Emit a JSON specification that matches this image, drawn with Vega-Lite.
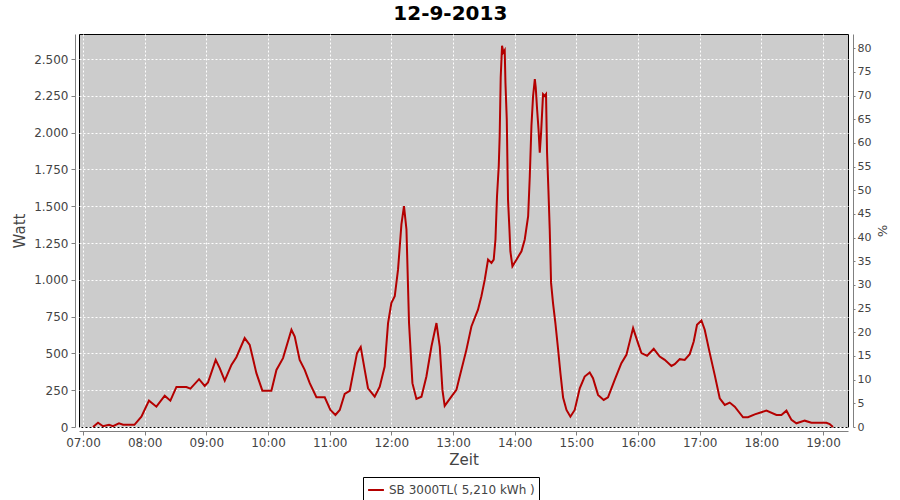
{
  "$schema": "https://vega.github.io/schema/vega-lite/v6.json",
  "autosize": {"type": "none"},
  "width": 769,
  "height": 393,
  "padding": {"left": 79, "top": 34, "right": 52, "bottom": 73},
  "title": {"text": "12-9-2013", "fontSize": 20, "font": "DejaVu Sans", "fontWeight": "bold", "color": "#000000", "anchor": "middle", "frame": "bounds", "offset": 7},
  "config": {
    "locale": {"number": {"decimal": ",", "thousands": ".", "grouping": [3], "currency": ["", " €"]}},
    "view": {"stroke": "#000000", "strokeWidth": 1, "fill": "#cccccc"},
    "axis": {"domainColor": "#808080", "tickColor": "#808080", "labelColor": "#444444", "titleColor": "#444444", "labelFont": "DejaVu Sans", "titleFont": "DejaVu Sans", "gridColor": "#ffffff", "gridDash": [2, 2], "gridOpacity": 1}
  },
  "layer": [
    {
      "data": {"values": [
        {"t": "2013-09-12T07:09:42", "w": 0},
        {"t": "2013-09-12T07:14:36", "w": 29},
        {"t": "2013-09-12T07:19:30", "w": 5},
        {"t": "2013-09-12T07:25:18", "w": 15},
        {"t": "2013-09-12T07:29:12", "w": 5},
        {"t": "2013-09-12T07:35:00", "w": 25},
        {"t": "2013-09-12T07:39:00", "w": 15},
        {"t": "2013-09-12T07:50:00", "w": 15},
        {"t": "2013-09-12T07:56:48", "w": 70},
        {"t": "2013-09-12T08:04:12", "w": 179},
        {"t": "2013-09-12T08:11:24", "w": 138},
        {"t": "2013-09-12T08:19:30", "w": 213},
        {"t": "2013-09-12T08:25:00", "w": 179},
        {"t": "2013-09-12T08:30:54", "w": 272},
        {"t": "2013-09-12T08:40:36", "w": 272},
        {"t": "2013-09-12T08:44:30", "w": 261},
        {"t": "2013-09-12T08:52:54", "w": 325},
        {"t": "2013-09-12T08:58:24", "w": 279},
        {"t": "2013-09-12T09:01:36", "w": 302},
        {"t": "2013-09-12T09:09:06", "w": 456},
        {"t": "2013-09-12T09:13:00", "w": 400},
        {"t": "2013-09-12T09:17:54", "w": 315},
        {"t": "2013-09-12T09:24:24", "w": 422},
        {"t": "2013-09-12T09:29:12", "w": 474},
        {"t": "2013-09-12T09:37:18", "w": 604},
        {"t": "2013-09-12T09:42:12", "w": 558},
        {"t": "2013-09-12T09:48:42", "w": 366},
        {"t": "2013-09-12T09:54:30", "w": 247},
        {"t": "2013-09-12T10:03:18", "w": 247},
        {"t": "2013-09-12T10:08:12", "w": 388},
        {"t": "2013-09-12T10:14:36", "w": 468},
        {"t": "2013-09-12T10:22:48", "w": 661},
        {"t": "2013-09-12T10:26:00", "w": 615},
        {"t": "2013-09-12T10:30:48", "w": 456},
        {"t": "2013-09-12T10:35:42", "w": 388},
        {"t": "2013-09-12T10:40:36", "w": 298},
        {"t": "2013-09-12T10:47:06", "w": 202},
        {"t": "2013-09-12T10:55:12", "w": 202},
        {"t": "2013-09-12T11:00:42", "w": 116},
        {"t": "2013-09-12T11:05:36", "w": 82},
        {"t": "2013-09-12T11:09:48", "w": 116},
        {"t": "2013-09-12T11:14:36", "w": 225},
        {"t": "2013-09-12T11:19:30", "w": 245},
        {"t": "2013-09-12T11:26:36", "w": 502},
        {"t": "2013-09-12T11:30:12", "w": 543},
        {"t": "2013-09-12T11:34:06", "w": 388},
        {"t": "2013-09-12T11:37:18", "w": 263},
        {"t": "2013-09-12T11:43:48", "w": 206},
        {"t": "2013-09-12T11:48:42", "w": 274},
        {"t": "2013-09-12T11:53:30", "w": 411},
        {"t": "2013-09-12T11:56:48", "w": 706},
        {"t": "2013-09-12T12:00:00", "w": 842},
        {"t": "2013-09-12T12:03:18", "w": 888},
        {"t": "2013-09-12T12:06:30", "w": 1069},
        {"t": "2013-09-12T12:09:48", "w": 1376},
        {"t": "2013-09-12T12:12:18", "w": 1500},
        {"t": "2013-09-12T12:14:42", "w": 1342},
        {"t": "2013-09-12T12:17:12", "w": 706},
        {"t": "2013-09-12T12:20:30", "w": 298},
        {"t": "2013-09-12T12:24:24", "w": 191},
        {"t": "2013-09-12T12:29:18", "w": 206},
        {"t": "2013-09-12T12:34:06", "w": 343},
        {"t": "2013-09-12T12:39:00", "w": 547},
        {"t": "2013-09-12T12:43:54", "w": 706},
        {"t": "2013-09-12T12:47:06", "w": 547},
        {"t": "2013-09-12T12:49:42", "w": 252},
        {"t": "2013-09-12T12:51:54", "w": 143},
        {"t": "2013-09-12T12:58:24", "w": 206},
        {"t": "2013-09-12T13:03:18", "w": 252},
        {"t": "2013-09-12T13:06:30", "w": 343},
        {"t": "2013-09-12T13:13:00", "w": 524},
        {"t": "2013-09-12T13:17:54", "w": 683},
        {"t": "2013-09-12T13:24:18", "w": 797},
        {"t": "2013-09-12T13:27:36", "w": 888},
        {"t": "2013-09-12T13:30:54", "w": 1001},
        {"t": "2013-09-12T13:34:06", "w": 1137},
        {"t": "2013-09-12T13:37:24", "w": 1115},
        {"t": "2013-09-12T13:39:36", "w": 1137},
        {"t": "2013-09-12T13:41:18", "w": 1274},
        {"t": "2013-09-12T13:42:48", "w": 1568},
        {"t": "2013-09-12T13:44:30", "w": 1773},
        {"t": "2013-09-12T13:45:24", "w": 1977},
        {"t": "2013-09-12T13:46:24", "w": 2375},
        {"t": "2013-09-12T13:47:42", "w": 2590},
        {"t": "2013-09-12T13:49:00", "w": 2545},
        {"t": "2013-09-12T13:50:18", "w": 2560},
        {"t": "2013-09-12T13:51:00", "w": 2340},
        {"t": "2013-09-12T13:52:18", "w": 2091},
        {"t": "2013-09-12T13:53:30", "w": 1546},
        {"t": "2013-09-12T13:54:54", "w": 1342},
        {"t": "2013-09-12T13:55:48", "w": 1194},
        {"t": "2013-09-12T13:57:48", "w": 1092},
        {"t": "2013-09-12T14:01:42", "w": 1137},
        {"t": "2013-09-12T14:06:36", "w": 1194},
        {"t": "2013-09-12T14:09:48", "w": 1274},
        {"t": "2013-09-12T14:13:06", "w": 1432},
        {"t": "2013-09-12T14:14:42", "w": 1705},
        {"t": "2013-09-12T14:16:18", "w": 2045},
        {"t": "2013-09-12T14:17:54", "w": 2249},
        {"t": "2013-09-12T14:19:36", "w": 2363},
        {"t": "2013-09-12T14:20:30", "w": 2306},
        {"t": "2013-09-12T14:21:48", "w": 2159},
        {"t": "2013-09-12T14:23:12", "w": 2022},
        {"t": "2013-09-12T14:24:24", "w": 1864},
        {"t": "2013-09-12T14:25:42", "w": 2000},
        {"t": "2013-09-12T14:27:36", "w": 2261},
        {"t": "2013-09-12T14:29:12", "w": 2249},
        {"t": "2013-09-12T14:30:30", "w": 2261},
        {"t": "2013-09-12T14:31:30", "w": 1864},
        {"t": "2013-09-12T14:32:48", "w": 1614},
        {"t": "2013-09-12T14:34:06", "w": 1342},
        {"t": "2013-09-12T14:35:24", "w": 979},
        {"t": "2013-09-12T14:37:18", "w": 842},
        {"t": "2013-09-12T14:39:36", "w": 706},
        {"t": "2013-09-12T14:42:12", "w": 530},
        {"t": "2013-09-12T14:44:30", "w": 366},
        {"t": "2013-09-12T14:47:06", "w": 200},
        {"t": "2013-09-12T14:50:24", "w": 116},
        {"t": "2013-09-12T14:54:12", "w": 70},
        {"t": "2013-09-12T14:58:24", "w": 116},
        {"t": "2013-09-12T15:03:18", "w": 263},
        {"t": "2013-09-12T15:08:06", "w": 343},
        {"t": "2013-09-12T15:13:00", "w": 370},
        {"t": "2013-09-12T15:16:12", "w": 332},
        {"t": "2013-09-12T15:21:06", "w": 218},
        {"t": "2013-09-12T15:26:36", "w": 184},
        {"t": "2013-09-12T15:30:48", "w": 202},
        {"t": "2013-09-12T15:37:18", "w": 320},
        {"t": "2013-09-12T15:43:48", "w": 434},
        {"t": "2013-09-12T15:48:42", "w": 490},
        {"t": "2013-09-12T15:55:12", "w": 672},
        {"t": "2013-09-12T16:00:00", "w": 570},
        {"t": "2013-09-12T16:03:18", "w": 502},
        {"t": "2013-09-12T16:08:48", "w": 484},
        {"t": "2013-09-12T16:15:18", "w": 531},
        {"t": "2013-09-12T16:21:06", "w": 479},
        {"t": "2013-09-12T16:26:00", "w": 456},
        {"t": "2013-09-12T16:32:30", "w": 415},
        {"t": "2013-09-12T16:35:42", "w": 427},
        {"t": "2013-09-12T16:40:36", "w": 461},
        {"t": "2013-09-12T16:45:24", "w": 456},
        {"t": "2013-09-12T16:50:18", "w": 495},
        {"t": "2013-09-12T16:54:12", "w": 581},
        {"t": "2013-09-12T16:57:24", "w": 695},
        {"t": "2013-09-12T17:01:42", "w": 724},
        {"t": "2013-09-12T17:04:54", "w": 661},
        {"t": "2013-09-12T17:09:48", "w": 502},
        {"t": "2013-09-12T17:14:36", "w": 354},
        {"t": "2013-09-12T17:19:30", "w": 195},
        {"t": "2013-09-12T17:24:24", "w": 150},
        {"t": "2013-09-12T17:29:12", "w": 166},
        {"t": "2013-09-12T17:34:06", "w": 138},
        {"t": "2013-09-12T17:42:12", "w": 66},
        {"t": "2013-09-12T17:47:00", "w": 66},
        {"t": "2013-09-12T17:53:36", "w": 86},
        {"t": "2013-09-12T18:04:54", "w": 111},
        {"t": "2013-09-12T18:14:42", "w": 82},
        {"t": "2013-09-12T18:19:30", "w": 82},
        {"t": "2013-09-12T18:24:24", "w": 111},
        {"t": "2013-09-12T18:29:18", "w": 48},
        {"t": "2013-09-12T18:34:06", "w": 25},
        {"t": "2013-09-12T18:42:12", "w": 43},
        {"t": "2013-09-12T18:48:42", "w": 29},
        {"t": "2013-09-12T19:03:18", "w": 29},
        {"t": "2013-09-12T19:06:30", "w": 20},
        {"t": "2013-09-12T19:09:42", "w": 0}
      ]},
      "mark": {"type": "line", "strokeWidth": 2},
      "encoding": {
        "x": {"field": "t", "type": "temporal",
          "scale": {"domain": [{"year": 2013, "month": 9, "date": 12, "hours": 6, "minutes": 56, "seconds": 6}, {"year": 2013, "month": 9, "date": 12, "hours": 19, "minutes": 24, "seconds": 18}], "nice": false},
          "axis": {"title": "Zeit", "format": "%H:%M", "tickCount": 13, "grid": true, "offset": 4, "tickSize": 4, "labelPadding": 2, "labelFontSize": 12, "labelFlush": false, "titleFontSize": 15, "titleFontWeight": "normal", "titlePadding": 4}},
        "y": {"field": "w", "type": "quantitative",
          "scale": {"domain": [0, 2670], "nice": false},
          "axis": {"title": "Watt", "values": [0, 250, 500, 750, 1000, 1250, 1500, 1750, 2000, 2250, 2500], "format": ",d", "grid": true, "offset": 4, "tickSize": 4, "labelPadding": 3, "labelFontSize": 12, "titleFontSize": 15, "titleFontWeight": "normal", "titlePadding": 6}},
        "color": {"datum": "SB 3000TL( 5,210 kWh )", "type": "nominal",
          "scale": {"range": ["#b40000"]},
          "legend": {"title": null, "orient": "none", "legendX": 284, "legendY": 443, "strokeColor": "#000000", "padding": 4, "symbolType": "stroke", "symbolStrokeWidth": 2, "symbolSize": 250, "labelFontSize": 12, "labelColor": "#444444", "labelFont": "DejaVu Sans"}}
      }
    },
    {
      "data": {"values": [{"p": 0}, {"p": 83}]},
      "mark": {"type": "point", "opacity": 0},
      "encoding": {
        "y": {"field": "p", "type": "quantitative",
          "scale": {"domain": [0, 83], "nice": false},
          "axis": {"orient": "right", "title": "%", "values": [0, 5, 10, 15, 20, 25, 30, 35, 40, 45, 50, 55, 60, 65, 70, 75, 80], "grid": false, "offset": 5, "tickSize": 2, "labelPadding": 2, "labelFontSize": 11, "titleFontSize": 13, "titleFontWeight": "normal", "titlePadding": 4}}
      }
    }
  ],
  "resolve": {"scale": {"y": "independent"}, "axis": {"y": "independent"}}
}
